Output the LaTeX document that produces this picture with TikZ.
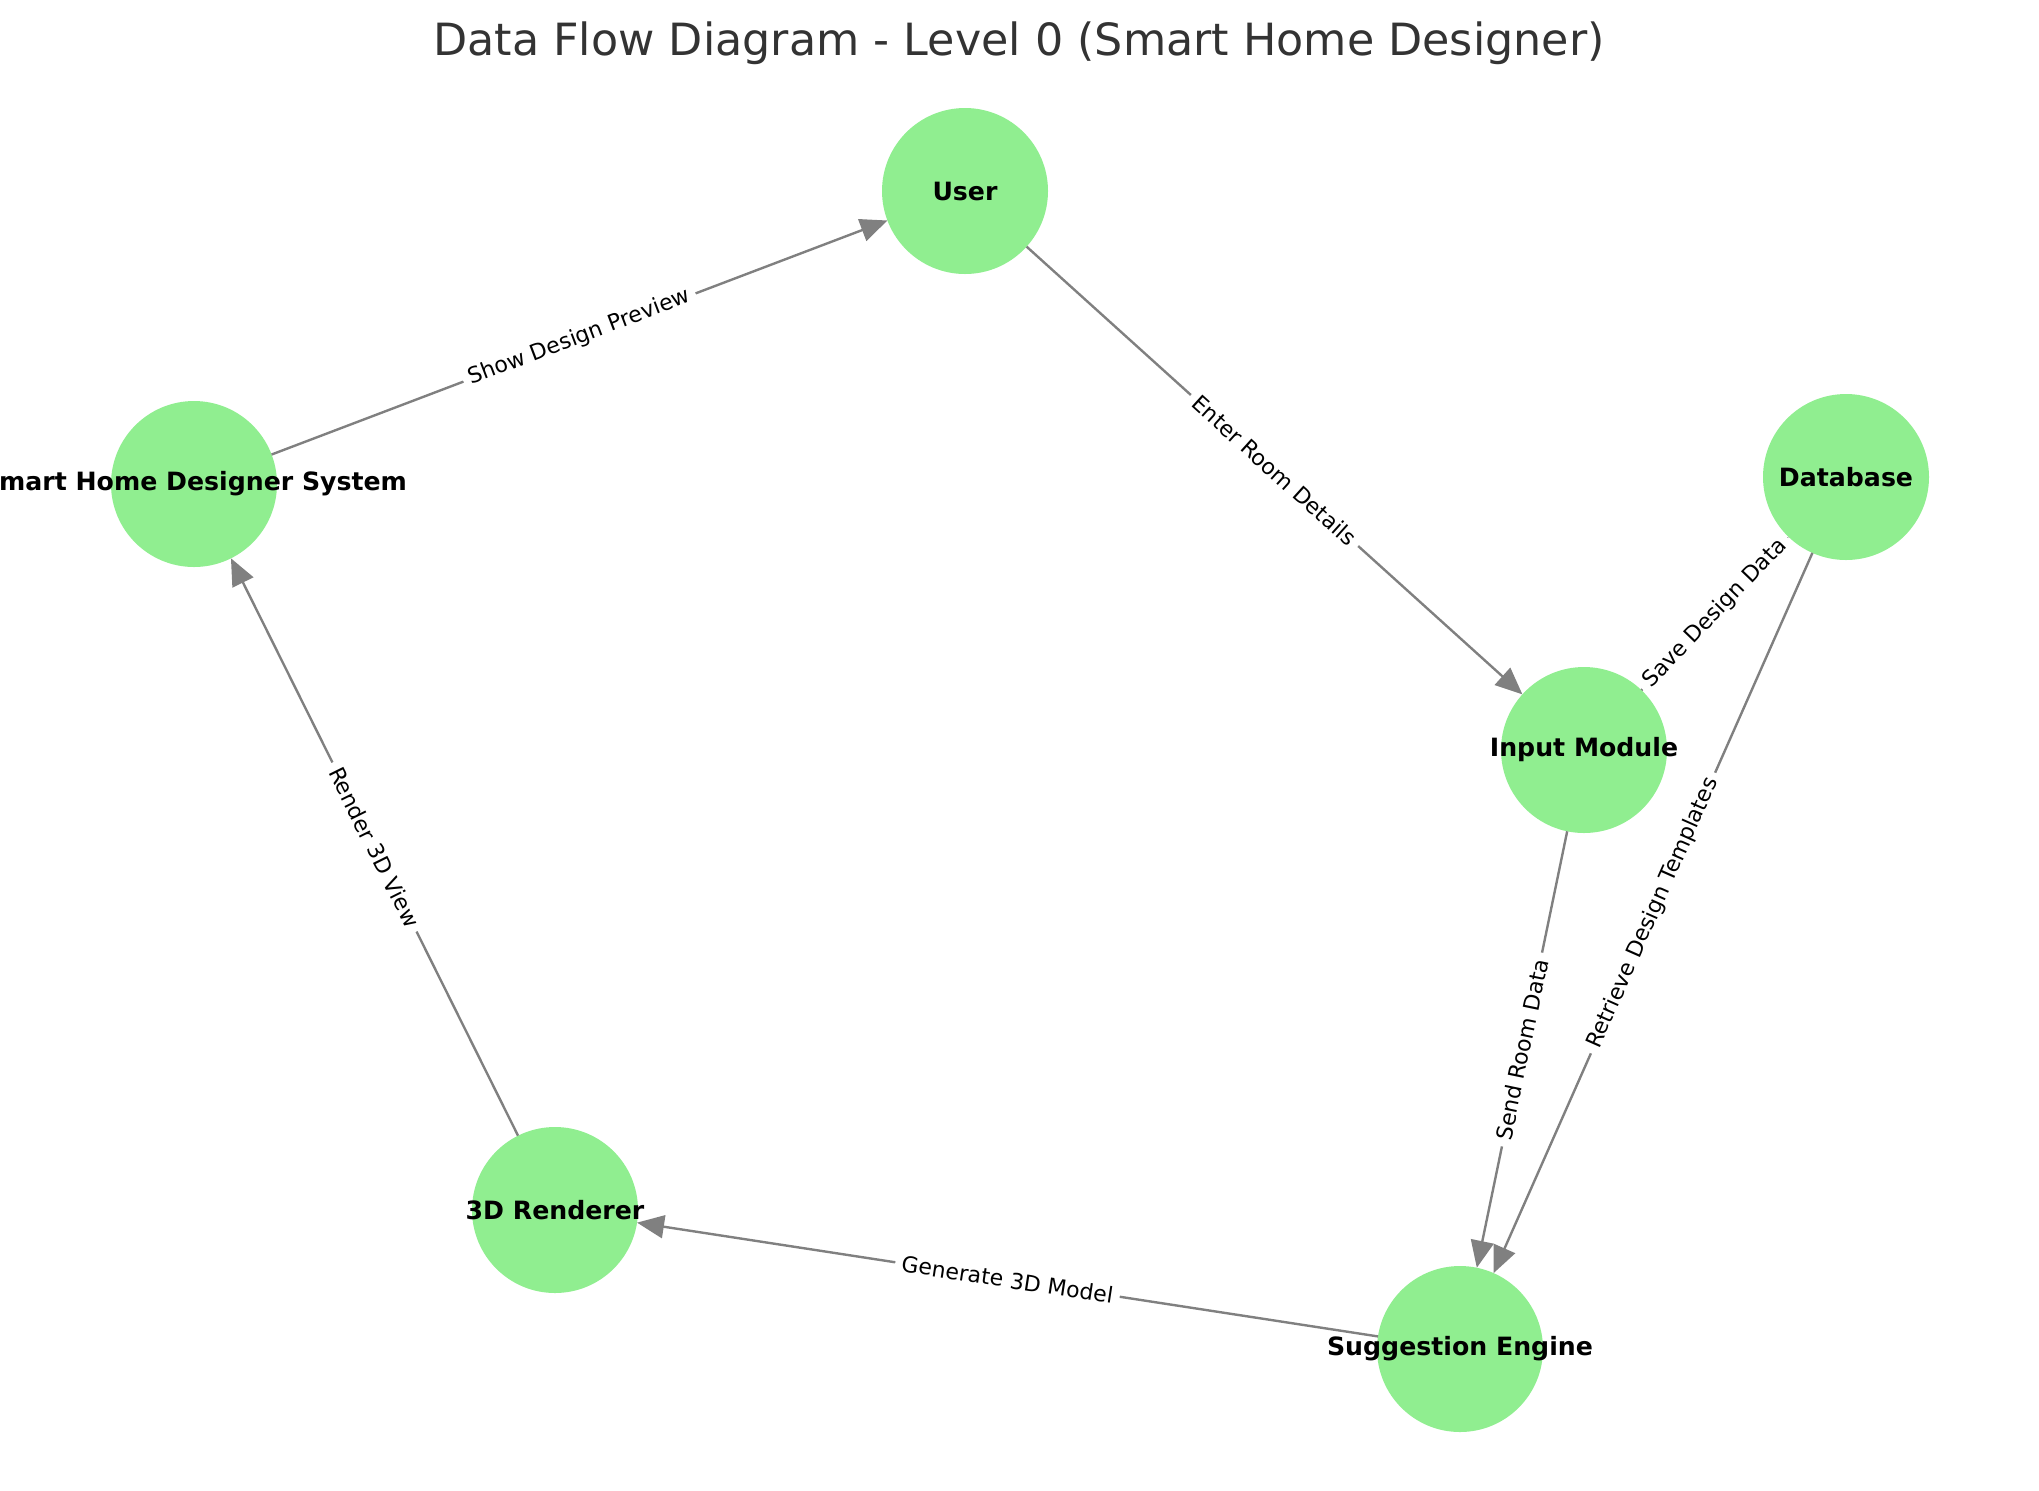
\documentclass[tikz,border=0pt]{standalone}
\usepackage{fontspec}
\setmainfont{DejaVu Sans}
\usetikzlibrary{arrows.meta}
\definecolor{nodegreen}{HTML}{90EE90}
\definecolor{flowgray}{HTML}{808080}
\definecolor{titlegray}{HTML}{333333}
\tikzset{
  proc/.style={circle, fill=nodegreen, minimum size=83pt, inner sep=0pt, outer sep=0pt},
  proctext/.style={font=\fontsize{12.6}{14}\selectfont\bfseries, text=black},
  flowline/.style={draw=flowgray, line width=1.2pt, -{Triangle[length=13.5pt,width=11.5pt]}},
  flowtext/.style={sloped, fill=white, rounded corners=3pt, inner sep=3.3pt, font=\fontsize{11}{13}\selectfont, text=black}
}
\begin{document}
\begin{tikzpicture}[x=0.5pt, y=-0.5pt]
\useasboundingbox (0,0) rectangle (2039,1490);
\node[anchor=base, text=titlegray, font=\fontsize{22.2}{26}\selectfont] (title) at (1019,55) {Data Flow Diagram - Level 0 (Smart Home Designer)};

% processes and stores
\foreach \n/\x/\y/\txt in {user/965/191/User, system/194/484/Smart Home Designer System, db/1846/477/Database, input/1584/750/Input Module, render/555/1210/3D Renderer, engine/1460/1349/Suggestion Engine}
  \node[proc, label={[proctext]center:\txt}] (\n) at (\x,\y) {};

% data flows
\draw[flowline] (system) -- node[flowtext] {Show Design Preview} (user);
\draw[flowline] (user) -- node[flowtext] {Enter Room Details} (input);
\draw[flowline] (input) -- node[flowtext] {Save Design Data} (db);
\draw[flowline] (input) -- node[flowtext] {Send Room Data} (engine);
\draw[flowline] (db) -- node[flowtext] {Retrieve Design Templates} (engine);
\draw[flowline] (engine) -- node[flowtext] {Generate 3D Model} (render);
\draw[flowline] (render) -- node[flowtext] {Render 3D View} (system);
\end{tikzpicture}
\end{document}
